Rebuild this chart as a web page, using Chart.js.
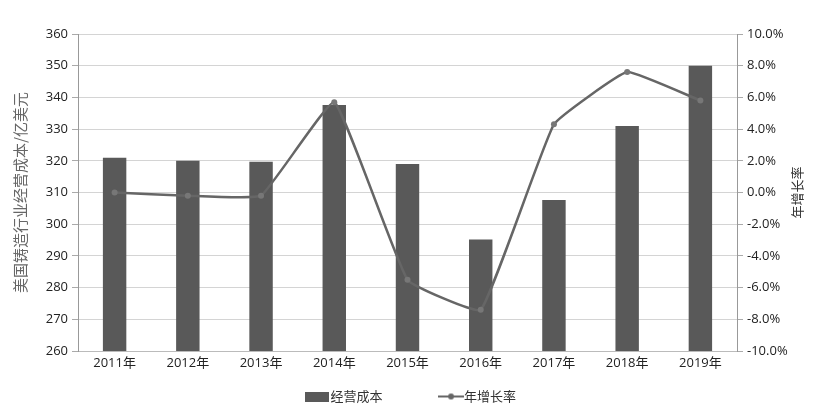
<!DOCTYPE html>
<html>
<head>
<meta charset="utf-8">
<script src="https://cdn.jsdelivr.net/npm/chart.js@4"></script>
<style>
  html, body { margin: 0; padding: 0; background: #fff; }
  #wrap { width: 827px; height: 413px; }
</style>
</head>
<body>
<div id="wrap"><canvas id="costChart" width="827" height="413"></canvas></div>
<script>
const years = ["2011年", "2012年", "2013年", "2014年", "2015年", "2016年", "2017年", "2018年", "2019年"];
const costVals = [321, 320, 319.7, 337.6, 319, 295.2, 307.6, 331, 350];
const growthVals = [0.0, -0.2, -0.2, 5.7, -5.5, -7.4, 4.3, 7.6, 5.8];

const tickFont = { family: "'Open Sans', 'Noto Sans CJK SC', sans-serif", size: 13 };
const cjkFont = "'Noto Sans CJK SC', sans-serif";

// legend icons
function lineIcon() {
  const c = document.createElement("canvas");
  c.width = 26; c.height = 10;
  const g = c.getContext("2d");
  g.strokeStyle = "#666"; g.lineWidth = 2;
  g.beginPath(); g.moveTo(0, 5); g.lineTo(26, 5); g.stroke();
  g.fillStyle = "#666";
  g.beginPath(); g.arc(13, 5, 3, 0, Math.PI * 2); g.fill();
  return c;
}
function boxIcon() {
  const c = document.createElement("canvas");
  c.width = 24; c.height = 10;
  const g = c.getContext("2d");
  g.fillStyle = "#595959";
  g.fillRect(0, 0, 24, 10);
  return c;
}

// right axis title reads bottom-to-top, so draw it by hand
const rightTitle = {
  id: "rightTitle",
  afterDraw(chart) {
    const s = chart.scales.y1;
    const area = chart.chartArea;
    const g = chart.ctx;
    g.save();
    g.translate(s.right - 30, (area.top + area.bottom) / 2);
    g.rotate(-Math.PI / 2);
    g.fillStyle = "#333";
    g.font = "13px " + cjkFont;
    g.textAlign = "center";
    g.textBaseline = "middle";
    g.fillText("年增长率", 0, 0);
    g.restore();
  },
};

const ctx = document.getElementById("costChart").getContext("2d");
new Chart(ctx, {
  type: "bar",
  data: {
    labels: years,
    datasets: [
      {
        label: "经营成本",
        data: costVals,
        backgroundColor: "#595959",
        yAxisID: "y",
        barPercentage: 0.32,
        categoryPercentage: 1,
        order: 2,
      },
      {
        label: "年增长率",
        data: growthVals,
        type: "line",
        borderColor: "#666",
        backgroundColor: "#666",
        borderWidth: 2.5,
        pointRadius: 3,
        pointBackgroundColor: "#777",
        pointBorderWidth: 0,
        tension: 0.1,
        yAxisID: "y1",
        order: 1,
      },
    ],
  },
  plugins: [rightTitle],
  options: {
    responsive: false,
    animation: false,
    layout: { padding: { top: 34, bottom: 0, left: 0, right: 0 } },
    plugins: {
      tooltip: { enabled: false },
      legend: {
        position: "bottom",
        labels: {
          usePointStyle: true,
          color: "#333",
          font: { family: cjkFont, size: 13 },
          padding: 10,
          generateLabels: (chart) => chart.data.datasets.map((ds, i) => ({
            text: i === 0 ? ds.label + "\u2003\u2003\u2003\u2003" : ds.label,
            pointStyle: i === 0 ? boxIcon() : lineIcon(),
            fillStyle: "#595959",
            strokeStyle: "#595959",
            lineWidth: 0,
            datasetIndex: i,
            fontColor: "#333",
          })),
        },
      },
    },
    scales: {
      x: {
        afterFit: (s) => { s.height = 29; },
        grid: { display: false, drawTicks: false },
        border: { color: "#bbb" },
        ticks: { color: "#222", font: tickFont, padding: 4 },
      },
      y: {
        position: "left",
        min: 260, max: 360,
        afterFit: (s) => { s.width = 78; },
        ticks: { stepSize: 10, color: "#222", font: tickFont, padding: 4 },
        grid: { color: "#d4d4d4", tickLength: 6, tickColor: "#aaa" },
        border: { color: "#999" },
        title: {
          display: true,
          text: "美国铸造行业经营成本/亿美元",
          color: "#666",
          font: { family: cjkFont, size: 15 },
          padding: { top: 11, bottom: 0 },
        },
      },
      y1: {
        position: "right",
        min: -10, max: 10,
        afterFit: (s) => { s.width = 90; },
        ticks: {
          stepSize: 2,
          color: "#222",
          font: tickFont,
          padding: 4,
          callback: (v) => v.toFixed(1) + "%",
        },
        grid: { drawOnChartArea: false, tickLength: 6, tickColor: "#aaa" },
        border: { color: "#999" },
      },
    },
  },
});
</script>
</body>
</html>
